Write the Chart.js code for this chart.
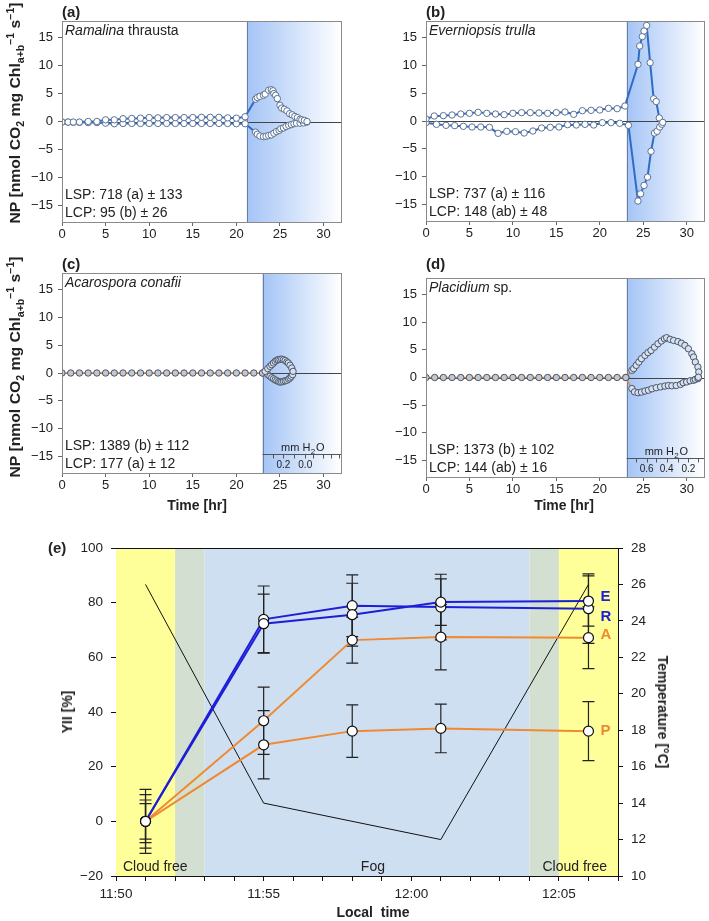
<!DOCTYPE html>
<html>
<head>
<meta charset="utf-8">
<script src="https://cdn.jsdelivr.net/npm/chart.js@4.4.0/dist/chart.umd.min.js"></script>
<style>
  body { margin: 0; background: #fff; width: 709px; height: 921px; position: relative; overflow: hidden;
         font-family: "Liberation Sans", Arial, sans-serif; color: #222; }
  .box { position: absolute; }
  .lbl { position: absolute; font-weight: bold; font-size: 15px; line-height: 15px; }
  .vt { position: absolute; white-space: nowrap; font-weight: bold; font-size: 14px; line-height: 1;
        transform: translate(-50%, -50%) rotate(-90deg); }
  .vt.np { font-size: 15px; transform: translate(-50%, -50%) rotate(-90deg) scaleX(1.05); }
  .vt.cw { transform: translate(-50%, -50%) rotate(90deg); }
  .ht { position: absolute; white-space: nowrap; font-weight: bold; font-size: 14px; line-height: 1;
        transform: translate(-50%, -50%); }
  sub, sup { font-size: 10px; line-height: 0; }
</style>
</head>
<body>
<div class="box" style="left:0;top:0"><canvas id="pa" width="355" height="250"></canvas></div>
<div class="box" style="left:355px;top:0"><canvas id="pb" width="354" height="250"></canvas></div>
<div class="box" style="left:0;top:250px"><canvas id="pc" width="355" height="250"></canvas></div>
<div class="box" style="left:355px;top:250px"><canvas id="pd" width="354" height="250"></canvas></div>
<div class="box" style="left:0;top:500px"><canvas id="pe" width="709" height="421"></canvas></div>

<div class="lbl" style="left:62px;top:4px">(a)</div>
<div class="lbl" style="left:426px;top:4px">(b)</div>
<div class="lbl" style="left:62px;top:256px">(c)</div>
<div class="lbl" style="left:426px;top:256px">(d)</div>
<div class="lbl" style="left:48px;top:540px">(e)</div>

<div class="vt np" style="left:14px;top:113px">NP [nmol CO<sub>2</sub> mg Chl<sub>a+b</sub><sup>−1</sup> s<sup>−1</sup>]</div>
<div class="vt np" style="left:14px;top:367px">NP [nmol CO<sub>2</sub> mg Chl<sub>a+b</sub><sup>−1</sup> s<sup>−1</sup>]</div>
<div class="ht" style="left:197px;top:505px">Time [hr]</div>
<div class="ht" style="left:564px;top:505px">Time [hr]</div>
<div class="ht" style="left:373px;top:912px">Local&nbsp; time</div>
<div class="vt" style="left:67px;top:712px">YII [%]</div>
<div class="vt cw" style="left:663px;top:712px">Temperature [°C]</div>

<script>
// ---------- panels (a)-(d): NP vs time ----------
const npTicks = [-15, -10, -5, 0, 5, 10, 15];
const hourTicks = [0, 5, 10, 15, 20, 25, 30];

// (a) Ramalina thrausta
const aUpperHr = [0, 0.7, 1.3, 2, 3, 4, 5, 6, 7, 8, 9, 10, 11, 12, 13, 14, 15, 16, 17, 18, 19, 20, 21,
  22.2, 22.4, 22.7, 23.1, 23.3, 23.7, 24.0, 24.2, 24.3, 24.5, 24.7, 25.0, 25.2, 25.5, 25.8, 26.1, 26.4, 26.7, 27.0, 27.3, 27.5, 27.8, 28.1];
const aUpperNP = [-0.1, -0.1, -0.1, -0.1, 0.0, 0.0, 0.3, 0.3, 0.5, 0.55, 0.6, 0.7, 0.65, 0.7, 0.7, 0.7, 0.7, 0.75, 0.75, 0.75, 0.65, 0.6, 0.85,
  4.0, 4.3, 4.5, 4.7, 4.9, 5.6, 5.7, 5.5, 5.0, 4.7, 4.1, 2.9, 2.4, 2.2, 1.9, 1.4, 1.2, 0.9, 0.7, 0.4, 0.3, 0.2, 0.0];
const aLowerHr = [0, 0.7, 1.3, 2, 3, 4, 5, 6, 7, 8, 9, 10, 11, 12, 13, 14, 15, 16, 17, 18, 19, 20, 21,
  22.2, 22.4, 22.7, 23.1, 23.4, 23.7, 24.0, 24.3, 24.6, 24.9, 25.1, 25.4, 25.7, 26.0, 26.3, 26.6, 26.9, 27.3, 27.7, 28.1];
const aLowerNP = [-0.1, -0.1, -0.15, -0.15, -0.2, -0.2, -0.3, -0.4, -0.35, -0.35, -0.35, -0.35, -0.35, -0.35, -0.35, -0.35, -0.35, -0.35, -0.35, -0.35, -0.35, -0.4, -0.4,
  -1.9, -2.3, -2.6, -2.7, -2.65, -2.5, -2.4, -2.1, -1.8, -1.6, -1.3, -1.15, -0.9, -0.7, -0.55, -0.4, -0.3, -0.3, -0.25, -0.1];

// (b) Everniopsis trulla
const bUpperHr = [0, 0.95, 2, 3, 4, 5, 6, 7, 8, 9, 10, 11, 12, 13, 14, 15, 16, 17, 18, 19, 20, 21, 22, 22.9,
  24.4, 24.6, 24.9, 25.1, 25.4, 25.8, 26.2, 26.5, 26.85, 27.25];
const bUpperNP = [0.36, 0.9, 0.96, 1.08, 1.26, 1.38, 1.56, 1.38, 1.26, 1.14, 1.38, 1.5, 1.5, 1.44, 1.38, 1.5, 1.62, 1.2, 1.86, 1.92, 1.98, 2.28, 2.22, 2.7,
  10.2, 13.5, 15.2, 16.2, 17.2, 10.5, 4.0, 3.5, 0.55, -0.25];
const bLowerHr = [0, 1.2, 2.3, 3.3, 4.3, 5.3, 6.3, 7.3, 8.3, 9.3, 10.3, 11.3, 12.3, 13.3, 14.3, 15.3, 16.3, 17.3, 18.3, 19.3, 20.3, 21.3, 22.3, 23.3,
  24.4, 24.7, 25.1, 25.5, 25.9, 26.3, 26.6, 26.9, 27.15];
const bLowerNP = [-0.3, -0.6, -0.78, -0.84, -0.96, -1.08, -1.08, -1.14, -2.22, -1.86, -1.92, -2.16, -1.8, -1.26, -1.14, -1.08, -0.66, -0.72, -0.6, -0.72, -0.3, -0.3, -0.42, -0.78,
  -14.4, -13.1, -11.6, -10.1, -5.45, -2.16, -1.85, -1.08, -0.59];

// (c) Acarospora conafii
const cUpperHr = [0, 1, 2, 3, 4, 5, 6, 7, 8, 9, 10, 11, 12, 13, 14, 15, 16, 17, 18, 19, 20, 21, 22, 23,
  23.3, 23.6, 23.85, 24.05, 24.25, 24.45, 24.65, 24.8, 25.0, 25.2, 25.4, 25.6, 25.8, 25.95, 26.15, 26.35, 26.5];
const cUpperNP = [0, 0, 0, 0, 0, 0, 0, 0, 0, 0, 0, 0, 0, 0, 0, 0, 0, 0, 0, 0, 0, 0, 0, 0,
  0.3, 0.8, 1.2, 1.5, 1.8, 2.1, 2.3, 2.4, 2.45, 2.5, 2.4, 2.25, 2.0, 1.8, 1.4, 0.9, 0.3];
const cLowerHr = [23, 23.6, 23.85, 24.05, 24.25, 24.45, 24.65, 24.85, 25.0, 25.2, 25.4, 25.6, 25.8, 26.0, 26.15, 26.3, 26.45];
const cLowerNP = [0, -0.3, -0.6, -0.85, -1.05, -1.25, -1.4, -1.55, -1.62, -1.6, -1.5, -1.4, -1.3, -1.1, -0.9, -0.6, -0.3];

// (d) Placidium sp.
const dUpperHr = [0, 1, 2, 3, 4, 5, 6, 7, 8, 9, 10, 11, 12, 13, 14, 15, 16, 17, 18, 19, 20, 21, 22, 23,
  23.7, 23.9, 24.2, 24.5, 24.8, 25.2, 25.55, 25.9, 26.3, 26.7, 27.1, 27.45, 27.7, 28.1, 28.5, 29.0, 29.4, 29.8, 30.2, 30.6, 30.8, 31.0, 31.3, 31.4, 31.35];
const dUpperNP = [0, 0, 0, 0, 0, 0, 0, 0, 0, 0, 0, 0, 0, 0, 0, 0, 0, 0, 0, 0, 0, 0, 0, 0,
  1.3, 1.6, 2.2, 2.8, 3.4, 4.0, 4.5, 4.9, 5.5, 6.1, 6.6, 7.0, 7.2, 6.9, 6.7, 6.5, 6.2, 5.8, 5.2, 4.3, 3.7, 2.8, 1.9, 1.0, 0.05];
const dLowerHr = [23, 23.7, 24.0, 24.4, 24.8, 25.2, 25.6, 26.0, 26.5, 27.0, 27.5, 27.9, 28.3, 28.8, 29.3, 29.6, 30.0, 30.4, 30.8, 31.0, 31.3, 31.35];
const dLowerNP = [0, -2.0, -2.6, -2.75, -2.65, -2.45, -2.3, -2.05, -1.85, -1.7, -1.55, -1.45, -1.5, -1.45, -1.25, -0.95, -0.8, -0.6, -0.5, -0.35, -0.2, 0.05];

// fog onset (hr) per panel, and mm H2O inset axes
const fogStart = { a: 21.2, b: 23.1, c: 23.0, d: 23.1 };
const cWaterTicks = [24.2, 25.4, 26.6, 27.9, 28.8, 29.9, 30.9, 31.8];
const cWaterLabels = [['0.2', 25.4], ['0.0', 27.9]];
const dWaterTicks = [24.2, 25.4, 26.5, 27.7, 29.0, 30.2, 31.3];
const dWaterLabels = [['0.6', 25.4], ['0.4', 27.7], ['0.2', 30.2]];

// ---------- panel (e): chlorophyll fluorescence YII ----------
const clockLabels = ['11:50', '11:55', '12:00', '12:05'];
const minuteTicks = [0, 1, 2, 3, 4, 5, 6, 7, 8, 9, 10, 11, 12, 13, 14, 15, 16, 17];
const yiiTicks = [-20, 0, 20, 40, 60, 80, 100];
const tempTicks = [10, 12, 14, 16, 18, 20, 22, 24, 26, 28];
const sampleMin = [1, 5, 8, 11, 16];          // minutes after 11:50
const yiiE = [0, 72.3, 75.6, 80.2, 80.6];
const yiiR = [0, 73.9, 78.9, 78.4, 77.8];
const yiiA = [0, 36.8, 66.3, 67.4, 67.2];
const yiiP = [0, 28.0, 33.0, 34.0, 33.0];
const errE = [11.7, 10.8, 11.5, 8.5, 9.2];
const errR = [9.8, 12.2, 11.3, 12.0, 12.7];
const errA = [7.8, 12.3, 8.4, 12.0, 11.3];
const errP = [6.5, 12.5, 9.6, 8.9, 10.8];
const tempMin = [1, 5, 11, 16];
const tempC = [26, 14, 12, 26];
const bandFrom = [0, 2, 3, 14, 15];
const bandTo = [2, 3, 14, 15, 17];
const bandNames = ['Cloud free', 'Fog', 'Cloud free'];

const FONT = '"Liberation Sans", Arial, sans-serif';
const pts = (xs, ys) => xs.map((x, i) => ({ x, y: ys[i] }));
const minus = v => (v < 0 ? '\u2212' + Math.abs(v) : String(v));

const npPlugin = {
  id: 'npPanel',
  beforeDatasetsDraw(chart, args, o) {
    const { ctx, chartArea: ca, scales: { x, y } } = chart;
    const fx = x.getPixelForValue(o.fog);
    ctx.save();
    const g = ctx.createLinearGradient(fx, 0, ca.right, 0);
    g.addColorStop(0, '#a4c4f6');
    g.addColorStop(1, '#ffffff');
    ctx.fillStyle = g;
    ctx.fillRect(fx, ca.top, ca.right - fx, ca.bottom - ca.top);
    ctx.strokeStyle = '#6b7e98';
    ctx.lineWidth = 1;
    ctx.beginPath(); ctx.moveTo(Math.round(fx) + 0.5, ca.top); ctx.lineTo(Math.round(fx) + 0.5, ca.bottom); ctx.stroke();
    const y0 = Math.round(y.getPixelForValue(0)) + 0.5;
    ctx.strokeStyle = '#444';
    ctx.beginPath(); ctx.moveTo(ca.left, y0); ctx.lineTo(ca.right, y0); ctx.stroke();
    ctx.restore();
  },
  afterDatasetsDraw(chart, args, o) {
    const { ctx, chartArea: ca, scales: { x, y } } = chart;
    ctx.save();
    ctx.strokeStyle = '#8a8a8a';
    ctx.lineWidth = 1;
    ctx.strokeRect(Math.round(ca.left) + 0.5, Math.round(ca.top) + 0.5, Math.round(ca.right - ca.left), Math.round(ca.bottom - ca.top));
    ctx.fillStyle = '#222';
    ctx.textBaseline = 'alphabetic';
    // species name
    let tx = ca.left + 3;
    o.name.forEach(([t, it]) => {
      ctx.font = (it ? 'italic ' : '') + '14px ' + FONT;
      ctx.fillText(t, tx, ca.top + 14);
      tx += ctx.measureText(t).width;
    });
    ctx.font = '14px ' + FONT;
    ctx.fillText(o.lsp, ca.left + 3, ca.bottom - 23);
    ctx.fillText(o.lcp, ca.left + 3, ca.bottom - 5);
    // mm H2O inset axis
    if (o.water) {
      const fx = x.getPixelForValue(o.fog);
      const wy = Math.round(y.getPixelForValue(-14.6)) + 0.5;
      ctx.strokeStyle = '#555';
      ctx.beginPath(); ctx.moveTo(fx, wy); ctx.lineTo(ca.right, wy); ctx.stroke();
      o.water.ticks.forEach(t => {
        const px = Math.round(x.getPixelForValue(t)) + 0.5;
        ctx.beginPath(); ctx.moveTo(px, wy); ctx.lineTo(px, wy + 4); ctx.stroke();
      });
      ctx.font = '10px ' + FONT;
      ctx.textAlign = 'center';
      o.water.labels.forEach(([s, t]) => ctx.fillText(s, x.getPixelForValue(t), wy + 13));
      const mid = (fx + ca.right) / 2;
      ctx.font = '11px ' + FONT;
      ctx.fillText('mm H', mid - 6, wy - 4);
      const w = ctx.measureText('mm H').width;
      ctx.font = '8px ' + FONT;
      ctx.fillText('2', mid - 6 + w / 2 + 2.5, wy - 1);
      ctx.font = '11px ' + FONT;
      ctx.textAlign = 'left';
      ctx.fillText('O', mid - 6 + w / 2 + 5.5, wy - 4);
    }
    ctx.restore();
  }
};

function npChart(id, cfg) {
  const loopFill = cfg.orange ? '#d6e1f1' : '#ffffff';
  const flatFill = cfg.orange ? '#c3c8cf' : '#ffffff';
  const edge = cfg.orange ? '#4a5568' : '#5b7291';
  const lineColor = cfg.orange ? '#e8893a' : '#2f6cc8';
  const datasets = cfg.series.map(([hr, np]) => ({
    data: pts(hr, np),
    showLine: true,
    borderColor: lineColor,
    borderWidth: cfg.orange ? 1.5 : 2,
    pointRadius: 3.2,
    pointBorderWidth: 1,
    pointBorderColor: edge,
    pointBackgroundColor: c => (c.raw && c.raw.x > cfg.fog ? loopFill : flatFill)
  }));
  return new Chart(document.getElementById(id), {
    type: 'scatter',
    data: { datasets },
    options: {
      responsive: false,
      animation: false,
      layout: { padding: { top: cfg.top, right: cfg.right, left: 0, bottom: 0 } },
      plugins: {
        legend: { display: false },
        tooltip: { enabled: false },
        npPanel: { fog: cfg.fog, name: cfg.name, lsp: cfg.lsp, lcp: cfg.lcp, water: cfg.water }
      },
      scales: {
        x: {
          type: 'linear', min: 0, max: 32,
          afterBuildTicks: s => { s.ticks = hourTicks.map(v => ({ value: v })); },
          afterFit: s => { s.height = cfg.xh; },
          border: { display: false },
          grid: { drawOnChartArea: false, tickLength: 4, color: '#666' },
          ticks: { autoSkip: false, maxRotation: 0, padding: 1, color: '#222', font: { family: FONT, size: 13 } }
        },
        y: {
          type: 'linear', min: -18, max: 18,
          afterBuildTicks: s => { s.ticks = npTicks.map(v => ({ value: v })); },
          afterFit: s => { s.width = cfg.yw; },
          border: { display: false },
          grid: { drawOnChartArea: false, tickLength: 4, color: '#666' },
          ticks: { autoSkip: false, padding: 5, color: '#222', font: { family: FONT, size: 13 }, callback: minus }
        }
      }
    },
    plugins: [npPlugin]
  });
}

npChart('pa', { series: [[aUpperHr, aUpperNP], [aLowerHr, aLowerNP]], fog: fogStart.a,
  top: 21, right: 14, xh: 28, yw: 62,
  name: [['Ramalina', true], [' thrausta', false]], lsp: 'LSP: 718 (a) ± 133', lcp: 'LCP: 95 (b) ± 26' });
npChart('pb', { series: [[bUpperHr, bUpperNP], [bLowerHr, bLowerNP]], fog: fogStart.b,
  top: 21, right: 5, xh: 29, yw: 71,
  name: [['Everniopsis trulla', true]], lsp: 'LSP: 737 (a) ± 116', lcp: 'LCP: 148 (ab) ± 48' });
npChart('pc', { series: [[cUpperHr, cUpperNP], [cLowerHr, cLowerNP]], fog: fogStart.c, orange: true,
  top: 23, right: 14, xh: 27, yw: 62,
  name: [['Acarospora conafii', true]], lsp: 'LSP: 1389 (b) ± 112', lcp: 'LCP: 177 (a) ± 12',
  water: { ticks: cWaterTicks, labels: cWaterLabels } });
npChart('pd', { series: [[dUpperHr, dUpperNP], [dLowerHr, dLowerNP]], fog: fogStart.d, orange: true,
  top: 28, right: 5, xh: 23, yw: 71,
  name: [['Placidium', true], [' sp.', false]], lsp: 'LSP: 1373 (b) ± 102', lcp: 'LCP: 144 (ab) ± 16',
  water: { ticks: dWaterTicks, labels: dWaterLabels } });

// ---------- panel (e) ----------
const fogPlugin = {
  id: 'fogPanel',
  beforeDatasetsDraw(chart, args, o) {
    const { ctx, chartArea: ca, scales: { x, y } } = chart;
    ctx.save();
    bandFrom.forEach((f, i) => {
      const x0 = x.getPixelForValue(f), x1 = x.getPixelForValue(bandTo[i]);
      ctx.fillStyle = o.colors[i];
      ctx.fillRect(x0, ca.top, x1 - x0, ca.bottom - ca.top);
    });
    ctx.fillStyle = '#222';
    ctx.font = '14px ' + FONT;
    ctx.textBaseline = 'alphabetic';
    ctx.textAlign = 'left';
    ctx.fillText(bandNames[0], ca.left + 7, ca.bottom - 5);
    ctx.textAlign = 'center';
    ctx.fillText(bandNames[1], x.getPixelForValue(8.7), ca.bottom - 5);
    ctx.textAlign = 'right';
    ctx.fillText(bandNames[2], ca.right - 11, ca.bottom - 5);
    // error bars
    ctx.strokeStyle = '#222';
    ctx.lineWidth = 1.2;
    chart.data.datasets.forEach(d => {
      if (!d.errors) return;
      d.data.forEach((p, i) => {
        const px = x.getPixelForValue(p.x);
        const yt = y.getPixelForValue(p.y + d.errors[i]);
        const yb = y.getPixelForValue(p.y - d.errors[i]);
        ctx.beginPath();
        ctx.moveTo(px, yt); ctx.lineTo(px, yb);
        ctx.moveTo(px - 6, yt); ctx.lineTo(px + 6, yt);
        ctx.moveTo(px - 6, yb); ctx.lineTo(px + 6, yb);
        ctx.stroke();
      });
    });
    ctx.restore();
  },
  afterDatasetsDraw(chart, args, o) {
    const { ctx, chartArea: ca, scales: { x, y } } = chart;
    ctx.save();
    ctx.strokeStyle = '#111';
    ctx.lineWidth = 1;
    ctx.beginPath(); ctx.moveTo(ca.left, Math.round(ca.top) + 0.5); ctx.lineTo(ca.right, Math.round(ca.top) + 0.5); ctx.stroke();
    ctx.font = 'bold 15px ' + FONT;
    ctx.textBaseline = 'middle';
    ctx.textAlign = 'left';
    chart.data.datasets.forEach((d, i) => {
      if (!d.tag) return;
      const p = d.data[d.data.length - 1];
      ctx.fillStyle = d.borderColor;
      ctx.fillText(d.tag, x.getPixelForValue(p.x) + 12, y.getPixelForValue(p.y) + o.tagShift[i]);
    });
    ctx.restore();
  }
};

const BLUE = '#1e1ed8', ORANGE = '#f08a32';
const yiiSet = (tag, vals, errs, color) => ({
  tag, errors: errs, data: pts(sampleMin, vals), yAxisID: 'y',
  borderColor: color, borderWidth: 2, pointRadius: 5, pointBorderWidth: 1.2,
  pointBorderColor: '#111', pointBackgroundColor: '#fff'
});

new Chart(document.getElementById('pe'), {
  type: 'scatter',
  data: {
    datasets: [
      yiiSet('E', yiiE, errE, BLUE),
      yiiSet('R', yiiR, errR, BLUE),
      yiiSet('A', yiiA, errA, ORANGE),
      yiiSet('P', yiiP, errP, ORANGE),
      { data: pts(tempMin, tempC), yAxisID: 'y2', borderColor: '#111', borderWidth: 1, pointRadius: 0 }
    ].map(d => Object.assign({ showLine: true }, d))
  },
  options: {
    responsive: false,
    animation: false,
    layout: { padding: { top: 48, right: 0, left: 0, bottom: 0 } },
    plugins: {
      legend: { display: false },
      tooltip: { enabled: false },
      fogPanel: { colors: ['#ffff99', '#d3e0d1', '#cfdff2', '#d3e0d1', '#ffff99'], tagShift: [-4, 8, -3, 0] }
    },
    scales: {
      x: {
        type: 'linear', min: 0, max: 17,
        afterBuildTicks: s => { s.ticks = minuteTicks.map(v => ({ value: v })); },
        afterFit: s => { s.height = 45; },
        border: { color: '#111' },
        grid: { drawOnChartArea: false, tickLength: 5, color: '#111' },
        ticks: { autoSkip: false, maxRotation: 0, padding: 5, color: '#222', font: { family: FONT, size: 13.5 },
                 callback: v => (v % 5 === 0 ? clockLabels[v / 5] : '') }
      },
      y: {
        type: 'linear', position: 'left', min: -20, max: 100,
        afterBuildTicks: s => { s.ticks = yiiTicks.map(v => ({ value: v })); },
        afterFit: s => { s.width = 116; },
        border: { color: '#111' },
        grid: { drawOnChartArea: false, tickLength: 5, color: '#111' },
        ticks: { autoSkip: false, padding: 8, color: '#222', font: { family: FONT, size: 13.5 }, callback: minus }
      },
      y2: {
        type: 'linear', position: 'right', min: 10, max: 28,
        afterBuildTicks: s => { s.ticks = tempTicks.map(v => ({ value: v })); },
        afterFit: s => { s.width = 91; },
        border: { color: '#111' },
        grid: { drawOnChartArea: false, tickLength: 5, color: '#111' },
        ticks: { autoSkip: false, padding: 8, color: '#222', font: { family: FONT, size: 13.5 } }
      }
    }
  },
  plugins: [fogPlugin]
});
</script>
</body>
</html>
